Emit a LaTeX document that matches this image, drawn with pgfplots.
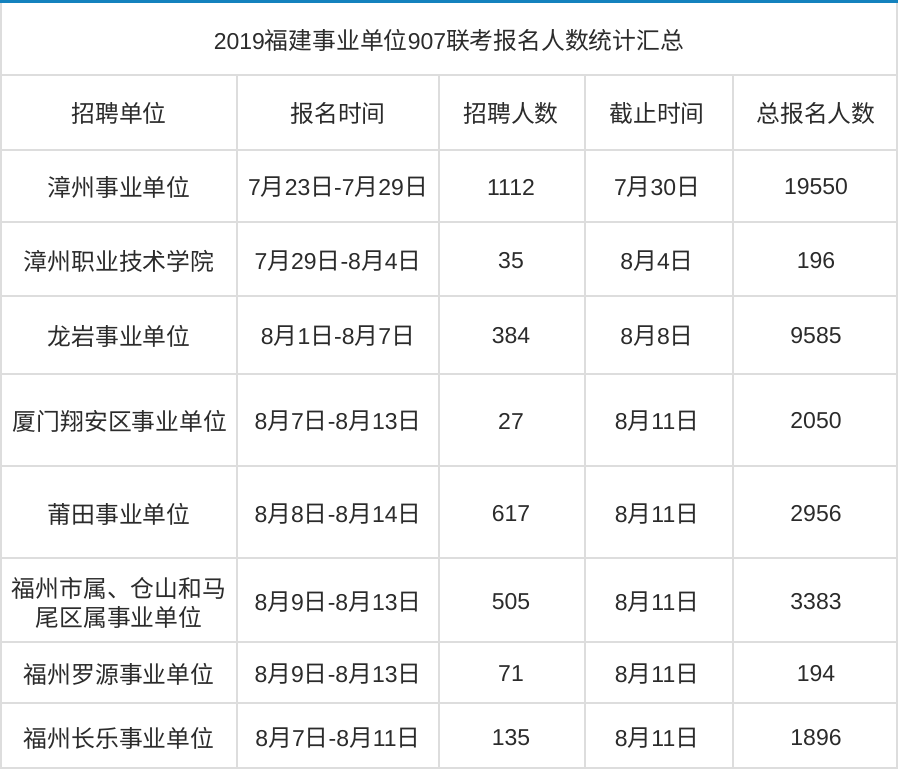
\documentclass[border=0pt]{standalone}
\usepackage{fontspec}
\setmainfont{Liberation Sans}
\newfontfamily\cjk[Scale=1.035]{Noto Sans CJK SC}
\usepackage{pgfplots}
\usepackage{pgfplotstable}
\pgfplotsset{compat=1.18}

% switch to the CJK font automatically for Chinese characters
\XeTeXinterchartokenstate=1
\newXeTeXintercharclass\cjkclass
\count255="3000
\loop\XeTeXcharclass\count255=\cjkclass\ifnum\count255<"303F \advance\count255 by 1 \repeat
\count255="4E00
\loop\XeTeXcharclass\count255=\cjkclass\ifnum\count255<"9FFF \advance\count255 by 1 \repeat
\count255="FF00
\loop\XeTeXcharclass\count255=\cjkclass\ifnum\count255<"FFEF \advance\count255 by 1 \repeat
\XeTeXinterchartoks 0 \cjkclass = {\cjk}
\XeTeXinterchartoks 4095 \cjkclass = {\cjk}
\XeTeXinterchartoks \cjkclass 0 = {\normalfont}

\definecolor{gridgray}{HTML}{DDDDDD}
\definecolor{topblue}{HTML}{1482BE}
\definecolor{txt}{HTML}{2B2B2B}

% cell texts, pixel coordinates (y downwards)
\pgfplotstableread[col sep=comma]{
x,y,label
449,40,2019福建事业单位907联考报名人数统计汇总
119,113,招聘单位
338,113,报名时间
511,113,招聘人数
657,113,截止时间
816,113,总报名人数
119,187,漳州事业单位
338,187,7月23日-7月29日
511,187,1112
657,187,7月30日
816,187,19550
119,261,漳州职业技术学院
338,261,7月29日-8月4日
511,261,35
657,261,8月4日
816,261,196
119,336,龙岩事业单位
338,336,8月1日-8月7日
511,336,384
657,336,8月8日
816,336,9585
120,421,厦门翔安区事业单位
338,421,8月7日-8月13日
511,421,27
657,421,8月11日
816,421,2050
119,514,莆田事业单位
338,514,8月8日-8月14日
511,514,617
657,514,8月11日
816,514,2956
119,588,福州市属、仓山和马
119,617,尾区属事业单位
338,602,8月9日-8月13日
511,602,505
657,602,8月11日
816,602,3383
119,674,福州罗源事业单位
338,674,8月9日-8月13日
511,674,71
657,674,8月11日
816,674,194
119,738,福州长乐事业单位
338,738,8月7日-8月11日
511,738,135
657,738,8月11日
816,738,1896
}\cells

\begin{document}
\begin{tikzpicture}
\begin{axis}[
    width=449pt, height=384.5pt, scale only axis,
    xmin=0, xmax=898, ymin=0, ymax=769,
    y dir=reverse,
    axis line style={draw=none},
    major tick length=0pt,
    xtick={1,897},
    ytick={75,150,222,296,374,466,558,642,703,768},
    xticklabels={}, yticklabels={},
    tick label style={inner sep=0pt, outer sep=0pt},
    grid=major,
    major grid style={line width=1pt, color=gridgray},
    extra y ticks={1.5},
    extra y tick labels={},
    extra y tick style={grid=major, major grid style={line width=1.6pt, color=topblue}},
    clip=false,
]
% inner column borders (below the title row)
\addplot[line width=1pt, color=gridgray, unbounded coords=jump] coordinates {
    (237,75) (237,768) (nan,nan)
    (439,75) (439,768) (nan,nan)
    (585,75) (585,768) (nan,nan)
    (733,75) (733,768)
};
% cell texts
\addplot[only marks, mark=none,
    point meta=explicit symbolic,
    nodes near coords,
    nodes near coords style={anchor=center, inner sep=0pt, text=txt,
        font=\fontsize{11.5pt}{14pt}\selectfont},
] table[x=x, y=y, meta=label] {\cells};
\end{axis}
\pgfresetboundingbox
\path (current axis.south west) rectangle (current axis.north east);
\end{tikzpicture}
\end{document}
